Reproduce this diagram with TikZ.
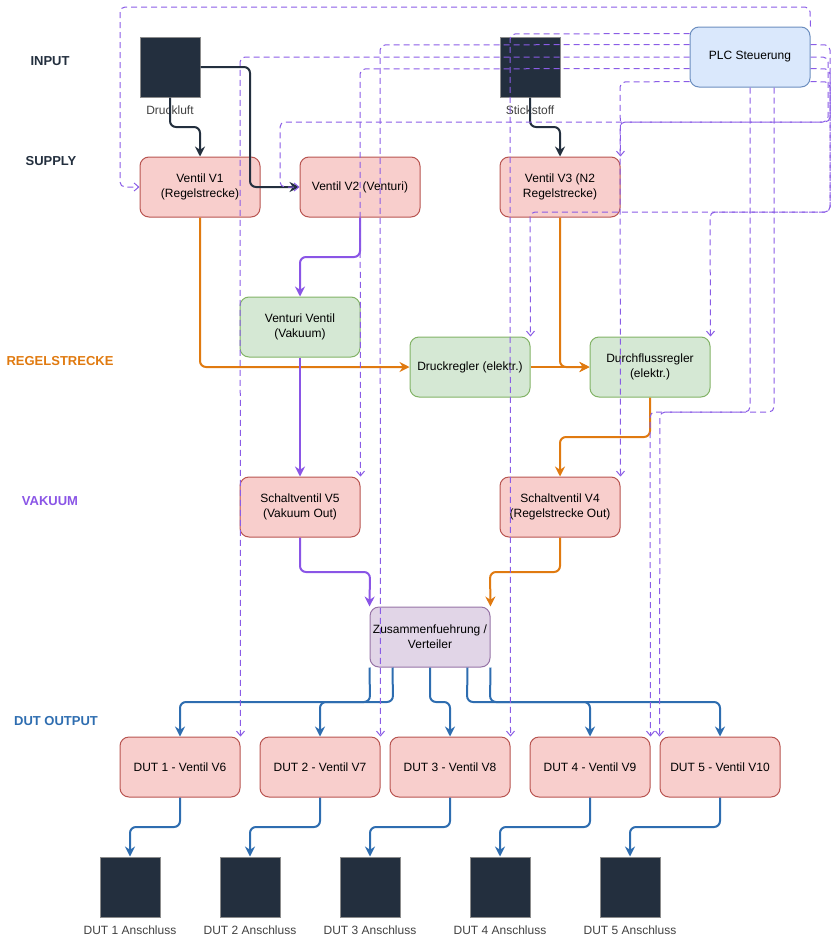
\documentclass[tikz,border=0pt]{standalone}
\usepackage{fontspec}
\setmainfont{Liberation Sans}
\usetikzlibrary{arrows.meta,calc}
\definecolor{ink}{HTML}{232F3E}
\definecolor{redfill}{HTML}{F8CECC}
\definecolor{redline}{HTML}{B85450}
\definecolor{greenfill}{HTML}{D5E8D4}
\definecolor{greenline}{HTML}{82B366}
\definecolor{bluefill}{HTML}{DAE8FC}
\definecolor{blueline}{HTML}{6C8EBF}
\definecolor{purpfill}{HTML}{E1D5E7}
\definecolor{purpline}{HTML}{9673A6}
\definecolor{orangeflow}{HTML}{E07A10}
\definecolor{violetflow}{HTML}{8A55E6}
\definecolor{blueflow}{HTML}{2E6DB0}
\definecolor{ctrl}{HTML}{8A5CE6}
\begin{document}
\begin{tikzpicture}[x=0.75pt,y=-0.75pt,
 txt/.style={font=\fontsize{9}{11.25}\selectfont, align=center, text=black},
 box/.style={txt, rounded corners=6.75pt, minimum width=90pt, minimum height=45pt, line width=0.75pt, inner sep=1pt},
 valve/.style={box, fill=redfill, draw=redline},
 ctrlbox/.style={box, fill=greenfill, draw=greenline},
 plcbox/.style={box, fill=bluefill, draw=blueline},
 mixbox/.style={box, fill=purpfill, draw=purpline},
 port/.style={fill=ink, draw=black!45, minimum width=45pt, minimum height=45pt, inner sep=0pt, line width=0.75pt},
 caption/.style={font=\fontsize{9}{11}\selectfont, text=black!75},
 rowlabel/.style={font=\fontsize{9.75}{12}\selectfont\bfseries},
 flow/.style={line width=1.5pt, rounded corners=4.5pt, -{Stealth[length=7.5pt,width=7.5pt,inset=2.5pt]}},
 ctl/.style={draw=ctrl, line width=0.75pt, dash pattern=on 4.5pt off 3pt, rounded corners=3.75pt, -{Straight Barb[length=3.5pt,width=6pt]}},
]
\useasboundingbox (0,0) rectangle (839,939);

% row labels
\node[rowlabel, text=ink] (lin) at (50,61) {INPUT};
\node[rowlabel, text=ink] (lsu) at (51,161) {SUPPLY};
\node[rowlabel, text=orangeflow] (lre) at (60,361) {REGELSTRECKE};
\node[rowlabel, text=violetflow] (lva) at (50,501) {VAKUUM};
\node[rowlabel, text=blueflow] (ldu) at (56,721) {DUT OUTPUT};

% inputs
\node[port] (dl) at (170,67) {};
\node[caption] (dlc) at (170,110) {Druckluft};
\node[port] (st) at (530,67) {};
\node[caption] (stc) at (530,110) {Stickstoff};
\node[plcbox] (plc) at (750,57) {PLC Steuerung};

% supply valves
\node[valve] (v1) at (200,187) {Ventil V1\\(Regelstrecke)};
\node[valve] (v2) at (360,187) {Ventil V2 (Venturi)};
\node[valve] (v3) at (560,187) {Ventil V3 (N2\\Regelstrecke)};

% control
\node[ctrlbox] (vv) at (300,327) {Venturi Ventil\\(Vakuum)};
\node[ctrlbox] (dr) at (470,367) {Druckregler (elektr.)};
\node[ctrlbox] (df) at (650,367) {Durchflussregler\\(elektr.)};

% switching valves
\node[valve] (v5) at (300,507) {Schaltventil V5\\(Vakuum Out)};
\node[valve] (v4) at (560,507) {Schaltventil V4\\(Regelstrecke Out)};

\node[mixbox] (zu) at (430,637) {Zusammenfuehrung /\\Verteiler};

% DUT valves
\node[valve] (d1) at (180,767) {DUT 1 - Ventil V6};
\node[valve] (d2) at (320,767) {DUT 2 - Ventil V7};
\node[valve] (d3) at (450,767) {DUT 3 - Ventil V8};
\node[valve] (d4) at (590,767) {DUT 4 - Ventil V9};
\node[valve] (d5) at (720,767) {DUT 5 - Ventil V10};

% DUT ports
\node[port] (a1) at (130,887) {};
\node[port] (a2) at (250,887) {};
\node[port] (a3) at (370,887) {};
\node[port] (a4) at (500,887) {};
\node[port] (a5) at (630,887) {};
\node[caption] (a1c) at (130,930) {DUT 1 Anschluss};
\node[caption] (a2c) at (250,930) {DUT 2 Anschluss};
\node[caption] (a3c) at (370,930) {DUT 3 Anschluss};
\node[caption] (a4c) at (500,930) {DUT 4 Anschluss};
\node[caption] (a5c) at (630,930) {DUT 5 Anschluss};

% supply lines
\draw[flow, ink] (dl.south) -- (170,127) -- (200,127) -- (v1.north);
\draw[flow, ink] (dl.east) -- (250,67) -- (250,187) -- (v2.west);
\draw[flow, ink] (st.south) -- (530,127) -- (560,127) -- (v3.north);

% Regelstrecke (orange)
\draw[flow, orangeflow] (v1.south) -- (200,367) -- (dr.west);
\draw[flow, orangeflow] (v3.south) -- (560,367) -- (df.west);
\draw[flow, orangeflow] (dr.east) -- (df.west);
\draw[flow, orangeflow] (df.south) -- (650,437) -- (560,437) -- (v4.north);
\draw[flow, orangeflow] (v4.south) -- (560,572) -- (490,572) -- (zu.north east);

% Vakuum (violet)
\draw[flow, violetflow] (v2.south) -- (360,257) -- (300,257) -- (vv.north);
\draw[flow, violetflow] (vv.south) -- (v5.north);
\draw[flow, violetflow] (v5.south) -- (300,572) -- (370,572) -- (zu.north west);

% DUT output (blue)
\draw[flow, blueflow] (zu.south west) -- (370,702) -- (180,702) -- (d1.north);
\draw[flow, blueflow] ($(zu.south west)+(23,0)$) -- (393,702) -- (320,702) -- (d2.north);
\draw[flow, blueflow] (zu.south) -- (430,702) -- (450,702) -- (d3.north);
\draw[flow, blueflow] ($(zu.south east)+(-23,0)$) -- (467,702) -- (590,702) -- (d4.north);
\draw[flow, blueflow] (zu.south east) -- (490,702) -- (720,702) -- (d5.north);

\draw[flow, blueflow] (d1.south) -- (180,827) -- (130,827) -- (a1.north);
\draw[flow, blueflow] (d2.south) -- (320,827) -- (250,827) -- (a2.north);
\draw[flow, blueflow] (d3.south) -- (450,827) -- (370,827) -- (a3.north);
\draw[flow, blueflow] (d4.south) -- (590,827) -- (500,827) -- (a4.north);
\draw[flow, blueflow] (d5.south) -- (720,827) -- (630,827) -- (a5.north);

% PLC control lines (dashed)
\draw[ctl] (plc.north east) -- (810,7) -- (120,7) -- (120,187) -- (v1.west);
\draw[ctl] ($(plc.north west)+(0,7)$) -- (510,34) -- (d3.north east);
\draw[ctl] ($(plc.north west)+(0,18)$) -- (380,45) -- (d2.north east);
\draw[ctl] (plc.west) -- (240,57) -- (d1.north east);
\draw[ctl] ($(plc.north west)+(0,42)$) -- (360,69) -- (v5.north east);
\draw[ctl] ($(plc.north west)+(0,55)$) -- (620,82) -- (v3.north east);
\draw[ctl] ($(plc.north east)+(0,18)$) -- (830,45) -- (830,122) -- (280,122) -- (280,187) -- (v2.west);
\draw[ctl] (plc.east) -- (828,57) -- (828,122) -- (620,122) -- (v4.north east);
\draw[ctl] ($(plc.north east)+(0,42)$) -- (830,69) -- (830,212) -- (530,212) -- (dr.north east);
\draw[ctl] ($(plc.north east)+(0,55)$) -- (830,82) -- (830,212) -- (710,212) -- (df.north east);
\draw[ctl] (plc.south) -- (750,412) -- (650,412) -- (d4.north east);
\draw[ctl] ($(plc.south)+(24,0)$) -- (774,412) -- (660,412) -- (d5.north west);
\end{tikzpicture}
\end{document}
